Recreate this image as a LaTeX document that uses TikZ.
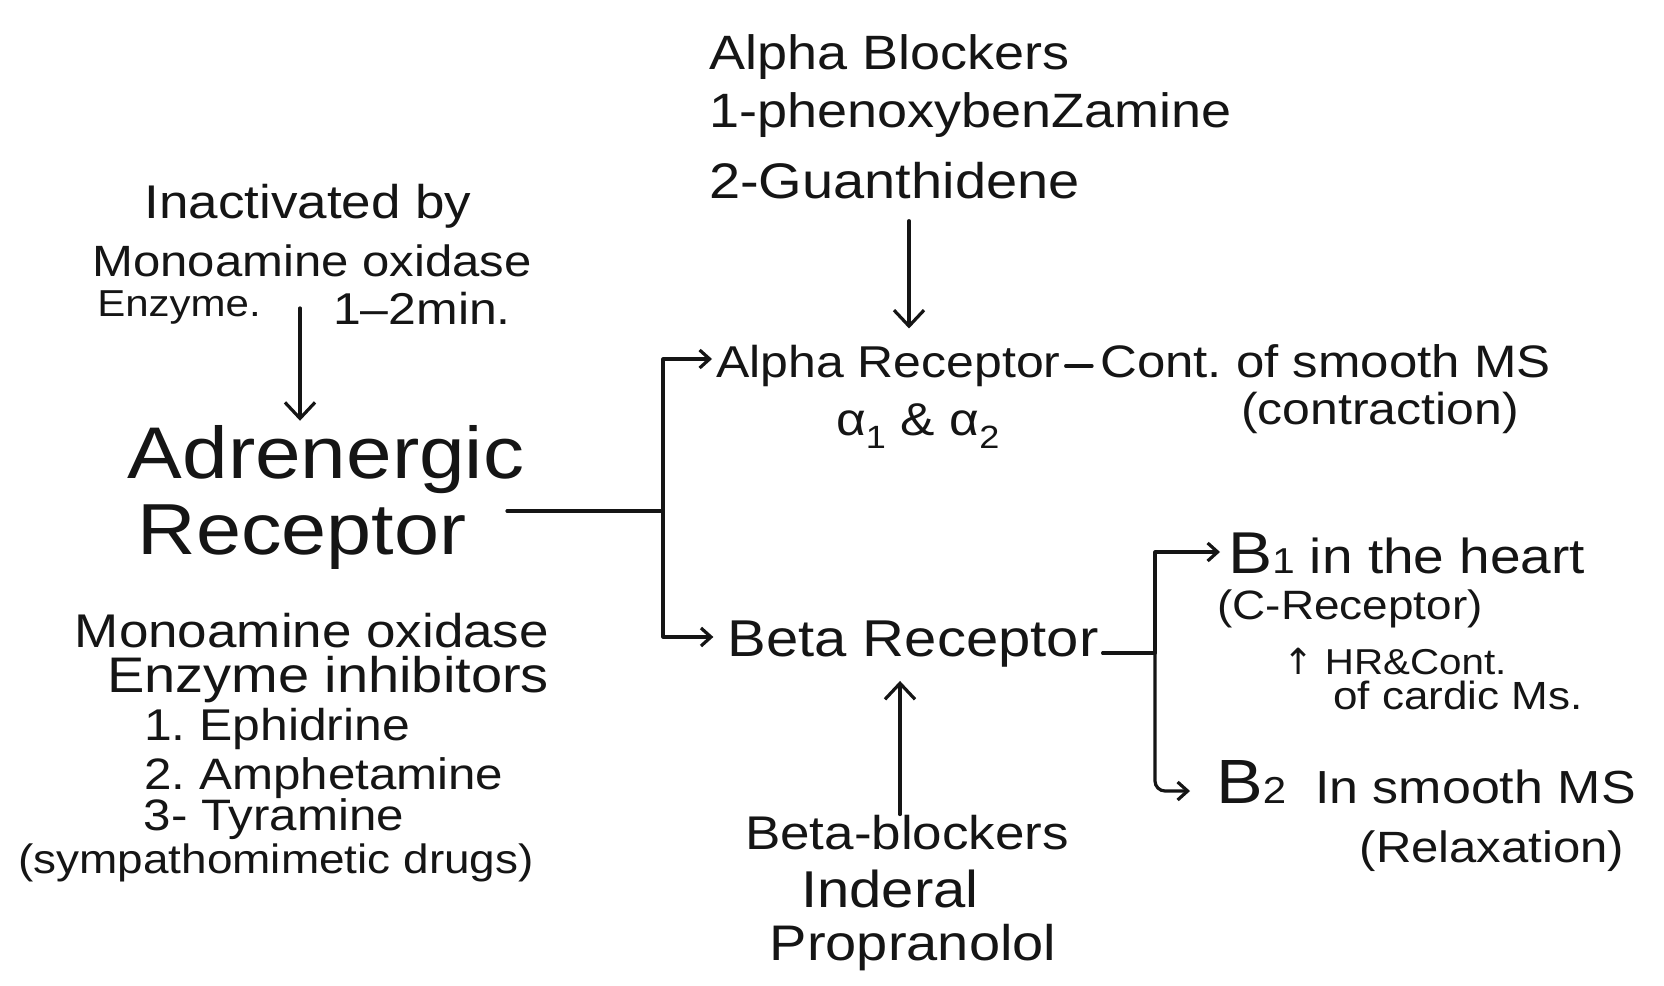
\documentclass[tikz,border=0pt]{standalone}
\usepackage{fontspec}
\setmainfont[FakeStretch=1.12]{Liberation Sans}
\newfontfamily\dejavu{DejaVu Sans}
\usetikzlibrary{arrows.meta,calc}
\newcommand\myfs[1]{\fontsize{#1}{#1}\selectfont}
\definecolor{ink}{HTML}{151515}
\frenchspacing
\begin{document}
\begin{tikzpicture}[x=1pt,y=-1pt,
  txt/.style={anchor=base,inner sep=0pt,text=ink},
  txtw/.style={anchor=base west,inner sep=0pt,text=ink},
  ln/.style={draw=ink,line width=3.2pt,line cap=round,line join=round},
  arr/.style={ln,-{Straight Barb[length=16pt,width=30pt,line width=3.2pt]}},
  sarr/.style={ln,-{Straight Barb[length=10pt,width=18pt,line width=3.2pt]}}]
\fill[white] (0,0) rectangle (1664,985);
\useasboundingbox (0,0) rectangle (1664,985);

% left top
\node[txt,font=\myfs{47.3}] (inact) at (308,218) {Inactivated by};
\node[txt,font=\myfs{43.8}] (mao) at (312,276) {Monoamine oxidase};
\node[txt,font=\myfs{37.5}] (enz) at (179,316) {Enzyme.};
\node[txt,font=\myfs{44.6}] (min) at (422,324) {1--2min.};
\node[txt,font=\myfs{73.2}] (adr1) at (326,478) {Adrenergic};
\node[txt,font=\myfs{72.3}] (adr2) at (302,554) {Receptor};
\coordinate (m0) at (300,308);
\draw[arr] (m0) -- ($(m0 |- adr1.north)+(0,-4)$);

% left bottom
\node[txt,font=\myfs{47.3}] (mao2) at (312,647) {Monoamine oxidase};
\node[txt,font=\myfs{50}] (inh) at (328,692) {Enzyme inhibitors};
\node[txt,font=\myfs{44.5}] (e1) at (277,740) {1. Ephidrine};
\node[txt,font=\myfs{44}] (e2) at (324,789) {2. Amphetamine};
\node[txt,font=\myfs{44}] (e3) at (274,830) {3- Tyramine};
\node[txt,font=\myfs{41}] (sym) at (276,873) {(sympathomimetic drugs)};

% alpha blockers
\node[txtw,font=\myfs{48.2}] (ab1) at (709,69) {Alpha Blockers};
\node[txtw,font=\myfs{48.2}] (ab2) at (709,127) {1-phenoxybenZamine};
\node[txtw,font=\myfs{50}] (ab3) at (709,198) {2-Guanthidene};

% alpha receptor
\node[txtw,font=\myfs{44.6}] (alpha) at (716,377) {Alpha Receptor};
\node[txt,font=\myfs{46}] (alsub) at (918,435) {α\textsubscript{1} \& α\textsubscript{2}};
\node[txtw,font=\myfs{45.5}] (cont) at (1100,377) {Cont. of smooth MS};
\node[txt,font=\myfs{44.6}] (contr) at (1380,424) {(contraction)};
\draw[ln] ($(alpha.base east)+(5,-11)$) -- ($(cont.base west)+(-8,-11)$);

\coordinate (ax) at (909,0);
\draw[arr] ($(ab3.south -| ax)+(0,22)$) -- ($(ax |- alpha.north)+(0,-16)$);

% beta receptor
\node[txt,font=\myfs{51.8}] (beta) at (913,656) {Beta Receptor};

% junction
\coordinate (a0) at (507,511);
\coordinate (j) at (663,511);
\coordinate (jt) at (663,359);
\coordinate (jb) at (663,637);
\draw[ln] (a0) -- (j);
\draw[sarr] (j) -- (jt) -- ($(alpha.west |- jt)+(-4,0)$);
\draw[sarr] (j) -- (jb) -- ($(beta.west |- jb)+(-14,0)$);

% beta blockers
\node[txt,font=\myfs{47.3}] (bb1) at (907,849) {Beta-blockers};
\node[txt,font=\myfs{51.8}] (bb2) at (890,907) {Inderal};
\node[txt,font=\myfs{50}] (bb3) at (913,960) {Propranolol};
\coordinate (u0) at (900,0);
\draw[arr,shorten >=14pt] (bb1.north -| u0) -- (u0 |- beta.south);

% beta subtypes
\node[txtw,font=\myfs{49.1}] (b1) at (1228,573) {{\myfs{59}B}{\myfs{36}1} in the heart};
\node[txt,font=\myfs{41}] (crec) at (1350,619) {(C-Receptor)};
\node[txt,font=\myfs{36}] (hr) at (1395,674) {{\dejavu ↑} HR\&Cont.};
\node[txt,font=\myfs{39.3}] (card) at (1458,709) {of cardic Ms.};
\node[txtw,font=\myfs{46.4}] (b2) at (1216,803) {{\myfs{62.5}B}{\myfs{37.5}2}\ \ In smooth MS};
\node[txt,font=\myfs{43.8}] (relax) at (1492,862) {(Relaxation)};

\coordinate (k) at (1155,653);
\coordinate (kt) at (1155,552);
\coordinate (kb) at (1155,791);
\draw[ln,shorten <=4pt] (beta.east |- k) -- (k);
\draw[sarr] (k) -- (kt) -- ($(b1.west |- kt)+(-8,0)$);
\draw[sarr,rounded corners=10pt] (k) -- (kb) -- ($(b2.west |- kb)+(-26,0)$);
\end{tikzpicture}
\end{document}
